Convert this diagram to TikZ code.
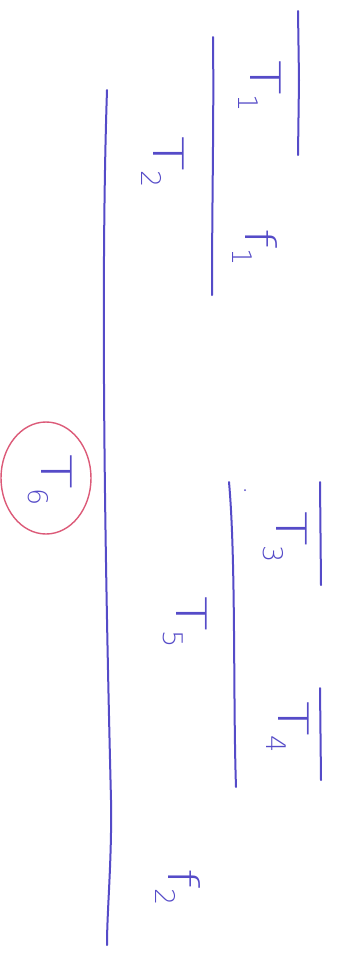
\documentclass[tikz,border=0pt]{standalone}
\usepackage{fontspec}
\setmainfont{DejaVu Sans}
\newfontfamily\thinfont{DejaVu Sans ExtraLight}
\definecolor{pen}{RGB}{85,75,200}
\definecolor{redpen}{RGB}{220,90,120}
\newcommand{\lbl}[2]{\scalebox{1.35}[1]{#1}\raisebox{-0.3em}{\fontsize{27}{30}\selectfont #2}}
\tikzset{
  stroke/.style={draw=pen, line width=2pt, line cap=round},
  lab/.style={text=pen, rotate=-90, font=\fontsize{42}{48}\selectfont\thinfont, inner sep=0pt},
}
\begin{document}
\begin{tikzpicture}[x=1pt,y=-1pt]
\useasboundingbox (0,0) rectangle (338,956);
\fill[white] (0,0) rectangle (338,956);
% bars
\draw[stroke] (298,11) -- (299,80) -- (298,155);
\draw[stroke] (213,37) .. controls (214,120) and (212,200) .. (212,295);
\draw[stroke] (107,90) .. controls (100,300) and (106,600) .. (111,800) .. controls (112,860) and (107,910) .. (107,945);
\draw[stroke] (229,482) .. controls (236,560) and (233,700) .. (236,787);
\draw[stroke] (320,482) -- (321,585);
\draw[stroke] (320,688) -- (321,780);
\fill[pen] (245,490) circle (1);
% labels
\node[lab] (t1) at (260,86) {\lbl{T}{1}};
\node[lab] (t2) at (163,162) {\lbl{T}{2}};
\node[lab] (f1) at (255,247) {\lbl{f}{1}};
\node[lab] (t6) at (50,480) {\lbl{T}{6}};
\node[lab] (t3) at (285,537) {\lbl{T}{3}};
\node[lab] (t5) at (185,622) {\lbl{T}{5}};
\node[lab] (t4) at (288,727) {\lbl{T}{4}};
\node[lab] (f2) at (178,887) {\lbl{f}{2}};
\draw[draw=redpen, line width=1.4pt] (46,478) ellipse (45 and 56);
\end{tikzpicture}
\end{document}
